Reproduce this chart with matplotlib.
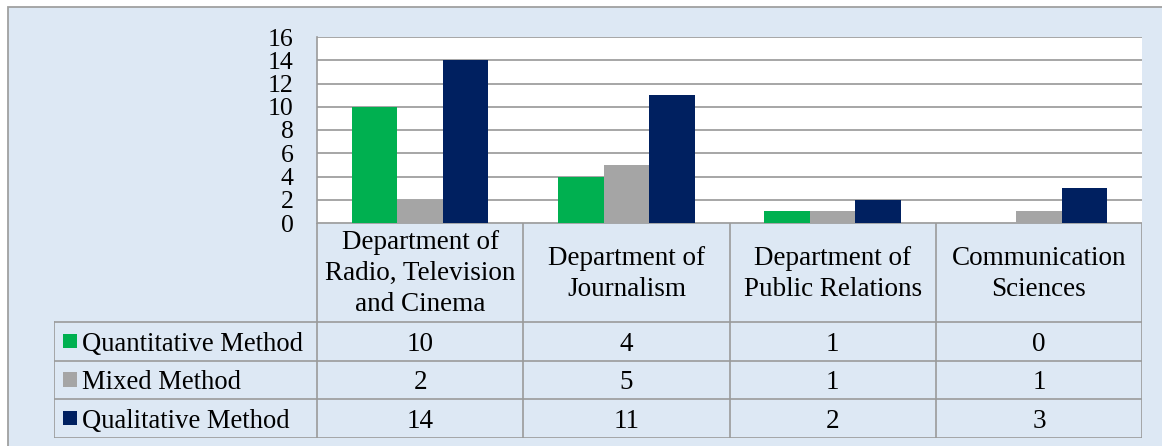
import matplotlib.pyplot as plt
import numpy as np
from matplotlib.patches import Rectangle

plt.rcParams['font.family'] = ['Liberation Serif', 'DejaVu Serif']

departments = ['Department of\nRadio, Television\nand Cinema',
               'Department of\nJournalism',
               'Department of\nPublic Relations',
               'Communication\nSciences']
methods = ['Quantitative Method', 'Mixed Method', 'Qualitative Method']
quantitative = [10, 4, 1, 0]
mixed = [2, 5, 1, 1]
qualitative = [14, 11, 2, 3]
colors = ['#00B050', '#A5A5A5', '#002060']
yticks = list(range(0, 17, 2))

series = [quantitative, mixed, qualitative]

W, H = 1162, 446
bg = '#DDE8F4'
line_c = '#9A9A9A'

fig = plt.figure(figsize=(W / 100, H / 100), dpi=100)
fig.patch.set_facecolor('white')
# light blue frame behind everything
fig.patches.append(Rectangle((8 / W, -0.1), 1.2, 1.1 - 7 / H,
                             transform=fig.transFigure, facecolor=bg,
                             edgecolor='#A0A0A0', linewidth=1.3, zorder=-10))

# plot area in pixel layout
pl, pr, pt, pb = 317, 1142, 37, 223
ax = fig.add_axes([pl / W, 1 - pb / H, (pr - pl) / W, (pb - pt) / H])
ax.set_facecolor('white')

x = np.arange(len(departments))
bw = 0.221
for i, (vals, c) in enumerate(zip(series, colors)):
    ax.bar(x + (i - 1) * bw, vals, width=bw, color=c, zorder=3)

ax.set_xlim(-0.5, len(departments) - 0.5)
ax.set_ylim(0, 16)
ax.set_yticks(yticks)
ax.set_yticklabels([str(v) for v in yticks], fontsize=18.5)
ax.tick_params(axis='y', length=0, pad=17)
ax.set_xticks([])
ax.grid(axis='y', color='#A6A6A6', linewidth=1.4, zorder=1)
for s in ['top', 'right', 'bottom']:
    ax.spines[s].set_visible(False)
ax.spines['left'].set_color(line_c)
ax.spines['left'].set_linewidth(1.2)

# data table under the plot
tl, tb = 54, 438
cat_px = (pr - pl) / len(departments)
x0 = -0.5 - (pl - tl) / cat_px
tab = fig.add_axes([tl / W, 1 - tb / H, (pr - tl) / W, (tb - pb) / H])
tab.set_xlim(x0, len(departments) - 0.5)
hdr = 2.56
nrows = len(methods)
tab.set_ylim(hdr + nrows, 0)
tab.axis('off')

def px(p):
    return x0 + (p - tl) / cat_px

lw = 1.2
# header grid
tab.plot([-0.5, len(departments) - 0.5], [0, 0], color=line_c, lw=lw)
for k in range(len(departments) + 1):
    tab.plot([k - 0.5, k - 0.5], [0, hdr + nrows], color=line_c, lw=lw)
for r in range(nrows + 1):
    tab.plot([x0, len(departments) - 0.5], [hdr + r, hdr + r], color=line_c, lw=lw)
tab.plot([x0, x0], [hdr, hdr + nrows], color=line_c, lw=lw)

for k, name in enumerate(departments):
    tab.text(k, hdr / 2 + 0.03, name, ha='center', va='center', multialignment='center',
             fontsize=19.5, linespacing=1.32)

for r, (name, vals, c) in enumerate(zip(methods, series, colors)):
    yc = hdr + r + 0.5
    tab.add_patch(Rectangle((px(63), yc - 0.2), 14 / cat_px, 0.37,
                            facecolor=c, edgecolor='none'))
    tab.text(px(82), yc, name, ha='left', va='center_baseline', fontsize=19.2)
    for k, v in enumerate(vals):
        tab.text(k, yc, str(v), ha='center', va='center_baseline', fontsize=19.5)

fig.savefig('out.png', dpi=100, facecolor=fig.get_facecolor())
